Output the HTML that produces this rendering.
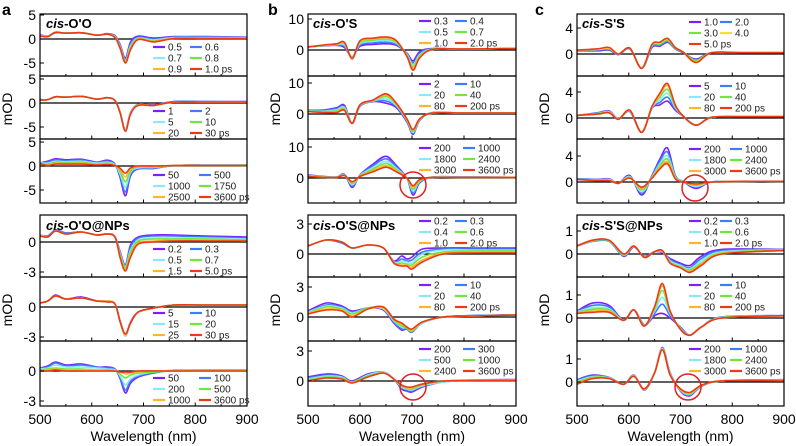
<!DOCTYPE html>
<html><head><meta charset="utf-8"><style>
html,body{margin:0;padding:0;background:#fff;}
svg{display:block;font-family:"Liberation Sans",Arial,sans-serif;}
</style></head><body>
<svg id="fig" width="796" height="446" viewBox="0 0 796 446" xmlns="http://www.w3.org/2000/svg"></svg>
<script>
// ---- data ----
const gridA = [500,515,530,550,580,610,630,645,655,665,675,690,720,760,820,900];
const gridBt = [500,530,555,570,585,600,625,650,670,690,702,715,740,800,900];
const gridBb = [500,535,565,585,615,645,665,680,690,700,720,760,820,900];
const gridCt = [500,540,562,580,602,625,645,660,675,690,705,730,760,820,900];
const gridCb = [500,530,562,590,610,630,650,665,680,700,718,740,780,900];

const a1 = [
[0.9,0.6,1.3,1.2,1.3,0.8,1.1,0.7,-1.2,-4.0,-0.6,0.6,0.2,0.5,0.5,0.4],
[0.8,0.6,1.3,1.2,1.3,0.8,1.1,0.6,-1.4,-4.3,-1.0,0.4,0.0,0.4,0.4,0.3],
[0.8,0.6,1.4,1.2,1.3,0.8,1.0,0.5,-1.6,-4.5,-1.4,0.2,-0.2,0.3,0.3,0.3],
[0.7,0.5,1.4,1.2,1.3,0.8,1.0,0.4,-1.8,-4.7,-1.7,0.1,-0.4,0.2,0.2,0.2],
[0.7,0.5,1.4,1.2,1.3,0.8,1.0,0.4,-1.9,-4.9,-2.0,0.0,-0.5,0.2,0.2,0.2],
[0.6,0.5,1.4,1.2,1.3,0.8,1.0,0.3,-2.0,-5.0,-2.2,-0.1,-0.6,0.1,0.1,0.1]];
const a2 = [
[0.7,0.7,1.3,1.2,1.4,0.8,1.1,0.5,-2.0,-5.6,-2.0,-0.3,-0.4,0.3,0.3,0.3],
[0.7,0.7,1.3,1.2,1.4,0.8,1.1,0.5,-2.0,-5.7,-2.1,-0.3,-0.5,0.3,0.3,0.2],
[0.6,0.7,1.3,1.2,1.4,0.8,1.1,0.5,-2.0,-5.7,-2.1,-0.4,-0.5,0.2,0.2,0.2],
[0.6,0.7,1.3,1.2,1.4,0.8,1.1,0.5,-2.1,-5.8,-2.2,-0.4,-0.5,0.2,0.2,0.2],
[0.6,0.7,1.3,1.2,1.4,0.8,1.1,0.5,-2.1,-5.8,-2.2,-0.4,-0.5,0.2,0.2,0.2],
[0.6,0.7,1.3,1.2,1.4,0.8,1.1,0.5,-2.1,-5.9,-2.3,-0.5,-0.5,0.2,0.2,0.2]];
const a3 = [
[0.6,1.0,1.5,1.3,1.4,0.8,1.2,0.4,-2.5,-6.2,-2.0,-0.6,-0.5,0.1,0.2,0.2],
[0.6,0.8,1.3,1.1,1.2,0.7,1.0,0.3,-2.2,-5.4,-1.7,-0.5,-0.4,0.1,0.2,0.2],
[0.6,0.6,1.0,0.9,1.0,0.6,0.8,0.3,-1.7,-4.4,-1.3,-0.4,-0.3,0.1,0.2,0.2],
[0.5,0.4,0.8,0.7,0.8,0.4,0.6,0.2,-1.2,-3.3,-1.0,-0.2,-0.2,0.1,0.1,0.1],
[0.5,0.2,0.6,0.5,0.6,0.3,0.4,0.1,-0.8,-2.3,-0.6,-0.1,-0.1,0.1,0.1,0.1],
[0.5,0.1,0.4,0.4,0.4,0.2,0.3,0.1,-0.5,-1.5,-0.4,0.0,0.0,0.1,0.1,0.1]];
const a4 = [
[0.7,0.6,1.2,0.9,1.0,0.7,0.8,0.5,-1.0,-2.3,-0.3,0.5,0.7,0.7,0.6,0.5],
[0.7,0.6,1.2,0.9,1.0,0.7,0.8,0.5,-1.1,-2.4,-0.5,0.4,0.6,0.6,0.5,0.4],
[0.7,0.5,1.1,0.8,1.0,0.7,0.8,0.5,-1.2,-2.5,-0.8,0.2,0.4,0.4,0.4,0.3],
[0.6,0.5,1.1,0.8,1.0,0.7,0.8,0.5,-1.3,-2.6,-1.0,0.1,0.3,0.3,0.3,0.2],
[0.6,0.5,1.1,0.8,1.0,0.7,0.8,0.5,-1.5,-2.8,-1.3,-0.1,0.1,0.2,0.2,0.1],
[0.6,0.5,1.1,0.8,1.0,0.7,0.8,0.5,-1.6,-2.9,-1.5,-0.2,0.0,0.1,0.1,0.1]];
const a5 = [
[0.4,0.6,1.2,0.8,1.0,0.6,0.6,0.3,-1.4,-2.8,-1.5,-0.5,-0.1,0.2,0.2,0.2],
[0.4,0.6,1.1,0.8,0.9,0.6,0.6,0.3,-1.5,-2.9,-1.6,-0.5,-0.1,0.2,0.2,0.2],
[0.4,0.6,1.1,0.8,0.9,0.6,0.6,0.3,-1.5,-2.9,-1.6,-0.5,-0.1,0.2,0.2,0.2],
[0.4,0.6,1.1,0.8,0.9,0.6,0.6,0.3,-1.5,-2.8,-1.6,-0.5,-0.1,0.2,0.2,0.2],
[0.4,0.6,1.1,0.8,0.9,0.6,0.6,0.3,-1.5,-2.8,-1.6,-0.5,-0.1,0.2,0.2,0.2],
[0.4,0.6,1.1,0.8,0.9,0.6,0.5,0.3,-1.5,-2.7,-1.6,-0.5,-0.1,0.2,0.2,0.2]];
const a6 = [
[0.3,0.5,0.9,0.6,0.7,0.4,0.4,0.2,-0.8,-2.2,-1.2,-0.6,-0.2,0.1,0.1,0.1],
[0.3,0.4,0.8,0.5,0.6,0.4,0.3,0.2,-0.7,-1.9,-1.0,-0.5,-0.2,0.1,0.1,0.1],
[0.2,0.3,0.6,0.4,0.4,0.3,0.2,0.1,-0.5,-1.4,-0.8,-0.4,-0.1,0.1,0.1,0.1],
[0.1,0.2,0.3,0.2,0.2,0.1,0.1,0.0,-0.3,-0.7,-0.4,-0.2,-0.1,0.0,0.1,0.1],
[0.0,0.1,0.2,0.1,0.1,0.1,0.0,0.0,-0.1,-0.3,-0.2,-0.1,0.0,0.0,0.0,0.0],
[0.0,0.0,0.1,0.0,0.0,0.0,0.0,0.0,-0.1,-0.1,-0.1,0.0,0.0,0.0,0.0,0.0]];
const b1 = [
[1.0,1.3,1.5,0.8,-2.2,1.2,1.8,2.0,1.5,-1.0,-3.5,-0.5,0.5,0.3,0.5],
[1.0,1.4,1.6,1.2,-2.3,1.6,2.3,2.5,1.8,-1.2,-4.2,-1.0,0.4,0.3,0.5],
[1.0,1.4,1.7,1.6,-2.4,2.0,2.8,3.0,2.2,-1.4,-4.8,-1.5,0.3,0.3,0.5],
[1.0,1.5,1.8,2.0,-2.5,2.4,3.2,3.5,2.5,-1.6,-5.4,-1.8,0.3,0.3,0.5],
[1.0,1.5,1.9,2.3,-2.7,2.7,3.5,3.9,2.8,-1.8,-6.0,-2.2,0.2,0.3,0.5],
[1.0,1.6,2.0,2.5,-2.8,3.0,3.8,4.2,3.0,-2.0,-6.5,-2.5,0.2,0.3,0.5]];
const b2 = [
[1.2,1.3,2.0,2.8,-3.0,2.5,4.0,3.5,2.0,-2.5,-6.5,-2.0,0.5,0.3,0.3],
[1.1,1.1,1.7,2.4,-3.0,2.6,4.1,4.2,2.4,-2.2,-6.2,-1.9,0.4,0.3,0.3],
[1.0,0.9,1.4,2.1,-3.0,2.7,4.2,4.9,2.7,-2.0,-5.9,-1.8,0.4,0.3,0.3],
[0.9,0.8,1.0,1.7,-3.0,2.8,4.3,5.6,3.0,-1.8,-5.6,-1.7,0.3,0.3,0.3],
[0.8,0.6,0.7,1.4,-3.0,2.9,4.4,6.1,3.3,-1.6,-5.2,-1.6,0.3,0.3,0.3],
[0.8,0.5,0.5,1.2,-3.0,3.0,4.5,6.5,3.5,-1.5,-5.0,-1.5,0.3,0.3,0.3]];
const b3 = [
[1.0,0.5,0.3,1.2,-3.0,1.0,4.5,7.0,4.0,0.0,-5.5,-1.5,0.3,0.3,0.2],
[0.9,0.4,0.3,1.1,-2.6,0.9,4.0,6.2,3.6,0.0,-4.9,-1.3,0.3,0.3,0.2],
[0.8,0.4,0.3,1.0,-2.2,0.8,3.4,5.4,3.1,0.0,-4.2,-1.1,0.3,0.3,0.2],
[0.7,0.3,0.2,0.9,-1.8,0.7,2.9,4.7,2.7,0.0,-3.6,-0.9,0.2,0.2,0.2],
[0.6,0.3,0.2,0.9,-1.5,0.6,2.4,4.0,2.3,0.0,-3.0,-0.7,0.2,0.2,0.2],
[0.5,0.2,0.2,0.8,-1.2,0.5,2.0,3.5,2.0,0.0,-2.5,-0.5,0.2,0.2,0.2]];
const b4 = [
[0.8,1.4,1.1,0.6,0.9,0.6,-0.7,-0.2,-0.5,-0.3,0.5,0.6,0.6,0.6],
[0.8,1.4,1.1,0.6,0.9,0.6,-0.8,-0.5,-0.7,-0.6,0.2,0.5,0.5,0.5],
[0.8,1.4,1.2,0.6,0.9,0.6,-0.8,-0.7,-0.8,-0.9,0.0,0.4,0.4,0.4],
[0.8,1.4,1.2,0.6,0.9,0.6,-0.9,-0.9,-1.0,-1.1,-0.3,0.2,0.3,0.3],
[0.8,1.4,1.2,0.6,0.9,0.6,-0.9,-1.1,-1.1,-1.3,-0.6,0.1,0.2,0.2],
[0.8,1.4,1.2,0.6,0.9,0.6,-0.9,-1.2,-1.2,-1.5,-0.8,0.0,0.1,0.1]];
const b5 = [
[0.6,1.4,1.1,0.6,0.9,0.7,-0.6,-1.3,-1.2,-1.5,-0.6,0.0,0.15,0.2],
[0.5,1.2,1.0,0.5,0.9,0.8,-0.5,-1.2,-1.2,-1.5,-0.6,0.0,0.15,0.2],
[0.5,1.1,0.9,0.4,0.9,0.8,-0.4,-1.0,-1.1,-1.4,-0.6,0.0,0.1,0.2],
[0.4,1.0,0.8,0.3,0.9,0.9,-0.3,-0.9,-1.1,-1.4,-0.5,0.0,0.1,0.2],
[0.4,0.8,0.7,0.1,0.8,0.9,-0.2,-0.7,-1.0,-1.3,-0.5,0.0,0.1,0.2],
[0.3,0.7,0.6,0.0,0.8,1.0,-0.2,-0.6,-1.0,-1.2,-0.5,0.0,0.1,0.2]];
const b6 = [
[0.4,0.7,0.5,0.0,0.7,0.9,0.2,-0.8,-1.0,-1.1,-0.6,-0.1,0.1,0.15],
[0.3,0.6,0.4,-0.1,0.6,0.9,0.2,-0.7,-0.9,-1.0,-0.5,-0.1,0.1,0.12],
[0.2,0.5,0.4,-0.1,0.6,0.9,0.2,-0.6,-0.8,-0.9,-0.5,-0.1,0.1,0.1],
[0.1,0.4,0.3,-0.1,0.5,0.8,0.2,-0.5,-0.7,-0.8,-0.4,0.0,0.1,0.1],
[0.0,0.3,0.2,-0.2,0.4,0.8,0.2,-0.4,-0.7,-0.7,-0.3,0.0,0.05,0.05],
[0.0,0.3,0.2,-0.2,0.4,0.8,0.2,-0.4,-0.6,-0.6,-0.3,0.0,0.05,0.05]];
const c1 = [
[0.5,0.5,0.6,-0.1,0.8,-2.2,1.0,1.2,1.8,0.8,0.2,-0.8,0.2,0.2,0.2],
[0.5,0.6,0.7,-0.1,0.8,-2.2,1.1,1.3,1.9,0.8,0.2,-0.9,0.2,0.2,0.2],
[0.6,0.7,0.8,0.0,0.9,-2.2,1.3,1.5,2.1,0.9,0.3,-1.0,0.2,0.2,0.2],
[0.6,0.7,0.9,0.0,0.9,-2.2,1.4,1.7,2.3,1.0,0.3,-1.2,0.2,0.2,0.2],
[0.6,0.8,1.0,0.0,0.9,-2.2,1.5,1.8,2.4,1.0,0.3,-1.3,0.2,0.2,0.2]];
const c2 = [
[0.4,0.8,1.1,-0.1,1.0,-2.2,1.5,2.0,2.6,1.2,0.3,-1.1,0.1,0.2,0.2],
[0.4,0.8,1.0,-0.1,1.0,-2.2,1.6,2.4,3.2,1.4,0.3,-1.1,0.1,0.2,0.2],
[0.4,0.7,1.0,-0.1,1.1,-2.2,1.6,2.8,3.8,1.6,0.3,-1.1,0.1,0.2,0.2],
[0.4,0.7,0.9,-0.2,1.1,-2.2,1.7,3.2,4.4,1.8,0.3,-1.1,0.1,0.2,0.2],
[0.4,0.6,0.9,-0.2,1.2,-2.2,1.7,3.5,5.0,1.9,0.3,-1.1,0.1,0.2,0.2],
[0.4,0.6,0.8,-0.2,1.2,-2.2,1.8,3.8,5.3,2.0,0.3,-1.1,0.1,0.2,0.2]];
const c3 = [
[0.5,0.4,0.5,-0.2,1.0,-2.0,1.0,3.5,5.2,1.0,0.1,-1.0,0.0,0.1,0.1],
[0.5,0.4,0.4,-0.2,0.9,-1.7,0.9,3.2,4.6,0.9,0.1,-0.8,0.0,0.1,0.1],
[0.4,0.3,0.4,-0.2,0.8,-1.5,0.8,2.8,4.0,0.8,0.1,-0.7,0.0,0.1,0.1],
[0.4,0.3,0.3,-0.2,0.7,-1.2,0.7,2.5,3.5,0.7,0.0,-0.5,0.0,0.1,0.1],
[0.4,0.2,0.3,-0.2,0.7,-1.0,0.7,2.2,3.1,0.6,0.0,-0.4,0.0,0.1,0.1],
[0.4,0.2,0.2,-0.2,0.6,-0.8,0.6,2.0,2.8,0.5,0.0,-0.3,0.0,0.1,0.1]];
const c4 = [
[0.35,0.55,0.55,-0.1,0.3,-0.1,0.1,0.05,-0.2,-0.4,-0.5,-0.1,0.2,0.2],
[0.35,0.55,0.55,-0.08,0.32,-0.12,0.1,0.08,-0.25,-0.45,-0.6,-0.2,0.15,0.2],
[0.35,0.57,0.57,-0.05,0.33,-0.13,0.1,0.1,-0.3,-0.5,-0.65,-0.3,0.1,0.18],
[0.35,0.58,0.58,-0.03,0.34,-0.14,0.1,0.12,-0.35,-0.55,-0.7,-0.4,0.05,0.17],
[0.35,0.6,0.6,0.0,0.35,-0.15,0.1,0.14,-0.38,-0.58,-0.75,-0.45,0.02,0.16],
[0.35,0.6,0.6,0.0,0.35,-0.15,0.1,0.15,-0.4,-0.6,-0.8,-0.5,0.0,0.15]];
const c5 = [
[0.3,0.65,0.55,-0.1,0.35,-0.3,0.1,0.2,0.0,-0.4,-0.75,-0.4,0.05,0.1],
[0.28,0.55,0.48,-0.1,0.35,-0.31,0.2,0.6,0.1,-0.42,-0.75,-0.4,0.04,0.1],
[0.26,0.45,0.4,-0.1,0.35,-0.32,0.3,0.9,0.2,-0.45,-0.75,-0.4,0.03,0.1],
[0.24,0.38,0.35,-0.1,0.35,-0.33,0.4,1.2,0.25,-0.47,-0.75,-0.4,0.02,0.1],
[0.22,0.3,0.3,-0.1,0.35,-0.34,0.45,1.4,0.28,-0.49,-0.75,-0.4,0.01,0.1],
[0.2,0.25,0.25,-0.1,0.35,-0.35,0.5,1.5,0.3,-0.5,-0.75,-0.4,0.0,0.1]];
const c6 = [
[0.1,0.3,0.2,-0.1,0.3,-0.35,0.4,1.5,0.4,-0.4,-0.6,-0.2,0.05,0.1],
[0.08,0.27,0.19,-0.1,0.29,-0.34,0.4,1.48,0.38,-0.38,-0.57,-0.19,0.05,0.09],
[0.04,0.23,0.18,-0.1,0.28,-0.33,0.4,1.46,0.36,-0.36,-0.54,-0.18,0.05,0.08],
[0.0,0.2,0.17,-0.1,0.27,-0.32,0.4,1.44,0.34,-0.34,-0.51,-0.17,0.05,0.07],
[-0.05,0.17,0.16,-0.1,0.26,-0.31,0.4,1.42,0.32,-0.32,-0.48,-0.16,0.05,0.06],
[-0.1,0.15,0.15,-0.1,0.25,-0.3,0.4,1.4,0.3,-0.3,-0.45,-0.15,0.05,0.05]];

const legA1 = ["0.5","0.6","0.7","0.8","0.9","1.0 ps"];
const legA2 = ["1","2","5","10","20","30 ps"];
const legA3 = ["50","500","1000","1750","2500","3600 ps"];
const legA4 = ["0.2","0.3","0.5","0.7","1.5","5.0 ps"];
const legA5 = ["5","10","15","20","25","30 ps"];
const legA6 = ["50","100","200","500","1000","3600 ps"];
const legB1 = ["0.3","0.4","0.5","0.7","1.0","2.0 ps"];
const legB2 = ["2","10","20","40","80","200 ps"];
const legB3 = ["200","1000","1800","2400","3000","3600 ps"];
const legB4 = ["0.2","0.3","0.4","0.6","1.0","2.0 ps"];
const legB5 = ["2","10","20","40","80","200 ps"];
const legB6 = ["200","300","500","1000","2400","3600 ps"];
const legC1 = ["1.0","2.0","3.0","4.0","5.0 ps"];
const legC2 = ["5","10","20","40","80","200 ps"];
const legC3 = ["200","1000","1800","2400","3000","3600 ps"];
const legC4 = ["0.2","0.3","0.4","0.6","1.0","2.0 ps"];
const legC5 = ["2","10","20","40","80","200 ps"];
const legC6 = ["200","1000","1800","2400","3000","3600 ps"];
const xTicks = [500,600,700,800,900];

// ---- rendering ----
const NS="http://www.w3.org/2000/svg";
const svg=document.getElementById('fig');
function mk(tag,attrs,parent){const e=document.createElementNS(NS,tag);for(const k in attrs)e.setAttribute(k,attrs[k]);(parent||svg).appendChild(e);return e;}
const COL6=["#7b1fff","#3d7bff","#86e9ff","#6ee83a","#ffb52e","#ec3a17"];
const COL5=["#7b1fff","#3d7bff","#6ee83a","#f2e033","#ec3a17"];
const cols={a:{x0:40,x1:247,lx:153,cx2:190,col2:{a3:199,a6:199}},
            b:{x0:308,x1:516,lx:419,cx2:455,col2:{b3:463,b6:463}},
            c:{x0:577,x1:784,lx:689,cx2:720,col2:{c3:730,c6:730}}};
const subs=[
 {id:'a1',c:'a',t:14,b:76,z:39,s:4.8,g:gridA,d:a1,leg:legA1,ly:47,ticks:[5,0,-5]},
 {id:'a2',c:'a',t:76,b:139,z:103,s:4.8,g:gridA,d:a2,leg:legA2,ly:111,ticks:[5,0,-5]},
 {id:'a3',c:'a',t:139,b:203,z:166,s:4.8,g:gridA,d:a3,leg:legA3,ly:175,ticks:[5,0,-5]},
 {id:'a4',c:'a',t:215,b:277,z:242,s:10,g:gridA,d:a4,leg:legA4,ly:249,ticks:[0,-3]},
 {id:'a5',c:'a',t:277,b:341,z:307,s:10,g:gridA,d:a5,leg:legA5,ly:313,ticks:[0,-3]},
 {id:'a6',c:'a',t:341,b:406,z:371,s:10,g:gridA,d:a6,leg:legA6,ly:378,ticks:[0,-3]},
 {id:'b1',c:'b',t:14,b:76,z:50,s:3.1,g:gridBt,d:b1,leg:legB1,ly:21,ticks:[10,0]},
 {id:'b2',c:'b',t:76,b:139,z:114,s:3.1,g:gridBt,d:b2,leg:legB2,ly:84,ticks:[10,0]},
 {id:'b3',c:'b',t:139,b:203,z:178,s:3.1,g:gridBt,d:b3,leg:legB3,ly:148,ticks:[10,0]},
 {id:'b4',c:'b',t:215,b:277,z:254,s:10,g:gridBb,d:b4,leg:legB4,ly:221,ticks:[3,0]},
 {id:'b5',c:'b',t:277,b:341,z:317,s:10,g:gridBb,d:b5,leg:legB5,ly:285,ticks:[3,0]},
 {id:'b6',c:'b',t:341,b:406,z:381,s:10,g:gridBb,d:b6,leg:legB6,ly:349,ticks:[3,0]},
 {id:'c1',c:'c',t:14,b:76,z:54,s:6.5,g:gridCt,d:c1,leg:legC1,ly:22,ticks:[4,0],five:true},
 {id:'c2',c:'c',t:76,b:139,z:118,s:6.5,g:gridCt,d:c2,leg:legC2,ly:86,ticks:[4,0]},
 {id:'c3',c:'c',t:139,b:203,z:182,s:6.5,g:gridCt,d:c3,leg:legC3,ly:149,ticks:[4,0]},
 {id:'c4',c:'c',t:215,b:277,z:254,s:23,g:gridCb,d:c4,leg:legC4,ly:221,ticks:[1,0]},
 {id:'c5',c:'c',t:277,b:341,z:318,s:23,g:gridCb,d:c5,leg:legC5,ly:285,ticks:[1,0]},
 {id:'c6',c:'c',t:341,b:406,z:382,s:23,g:gridCb,d:c6,leg:legC6,ly:349,ticks:[1,0]}
];
function path(pts){let d='M'+pts[0][0].toFixed(1)+','+pts[0][1].toFixed(1);
 for(let i=0;i<pts.length-1;i++){const p0=pts[Math.max(0,i-1)],p1=pts[i],p2=pts[i+1],p3=pts[Math.min(pts.length-1,i+2)];
  const c1x=p1[0]+(p2[0]-p0[0])/6,c1y=p1[1]+(p2[1]-p0[1])/6,c2x=p2[0]-(p3[0]-p1[0])/6,c2y=p2[1]-(p3[1]-p1[1])/6;
  d+=' C'+c1x.toFixed(1)+','+c1y.toFixed(1)+' '+c2x.toFixed(1)+','+c2y.toFixed(1)+' '+p2[0].toFixed(1)+','+p2[1].toFixed(1);}
 return d;}
const defs=mk('defs',{});
subs.forEach(sp=>{
 const C=cols[sp.c];
 const xs=w=>C.x0+(w-500)/400*(C.x1-C.x0);
 const ys=v=>sp.z-v*sp.s;
 const g=mk('g',{});
 
 
 const cp=mk('clipPath',{id:'cp'+sp.id},defs);
 mk('rect',{x:C.x0,y:sp.t,width:C.x1-C.x0,height:sp.b-sp.t},cp);
 const zl=mk('line',{x1:C.x0,x2:C.x1,y1:ys(0),y2:ys(0),stroke:'#000','stroke-width':1.3},g);
 
 
 const pal=sp.five?COL5:COL6;
 const lg=mk('g',{'clip-path':'url(#cp'+sp.id+')'},g);
 sp.d.forEach((ser,i)=>{
  const pts=ser.map((v,k)=>[xs(sp.g[k]),ys(v)]);
  const p=mk('path',{d:path(pts),fill:'none',stroke:pal[i],'stroke-width':1.6},lg);
  
  
 });
 mk('rect',{x:C.x0,y:sp.t,width:C.x1-C.x0,height:sp.b-sp.t,fill:'none',stroke:'#000','stroke-width':1.2},g);
 // x ticks
 for(let w=500;w<=900;w+=50){mk('line',{x1:xs(w),x2:xs(w),y1:sp.b,y2:sp.b-(w%100?2:3.5),stroke:'#000','stroke-width':1},g);}
 // y ticks
 sp.ticks.forEach(v=>{const y=ys(v); if(y<sp.t-4||y>sp.b+4)return;
  mk('line',{x1:C.x0,x2:C.x0+4,y1:y,y2:y,stroke:'#000','stroke-width':1},g);
  const t=mk('text',{x:C.x0-4,y:y+5,'text-anchor':'end','font-size':14,fill:'#000'},g);t.textContent=v;
  
  
 });
 // legend
 const col2=C.col2[sp.id]||C.cx2;
 sp.leg.forEach((lab,i)=>{
  const cx=i%2?col2:C.lx; const y=sp.ly+Math.floor(i/2)*11;
  const e=mk('g',{},g);
  
  
  mk('line',{x1:cx,x2:cx+12,y1:y,y2:y,stroke:pal[i],'stroke-width':2.2},e);
  const t=mk('text',{x:cx+15,y:y+3.5,'font-size':10,fill:'#222'},e);t.textContent=lab;
 });
});
// x tick labels & axis titles
['a','b','c'].forEach(k=>{const C=cols[k];const xs=w=>C.x0+(w-500)/400*(C.x1-C.x0);
 xTicks.forEach(w=>{const t=mk('text',{x:xs(w),y:424,'text-anchor':'middle','font-size':14});t.textContent=w;
  
  });
 const xt=mk('text',{x:(C.x0+C.x1)/2,y:441,'text-anchor':'middle','font-size':14});xt.textContent='Wavelength (nm)';
 
 
 [109,310].forEach(cy=>{const xx=C.x0-28;const yt=mk('text',{x:xx,y:cy,'text-anchor':'middle','font-size':14,transform:'rotate(-90 '+xx+' '+cy+')'});yt.textContent='mOD';
  
  });
});
// titles
[['a',46,28,"O'O"],['b',313,28,"O'S"],['c',582,28,"S'S"],['a',46,230,"O'O@NPs"],['b',313,230,"O'S@NPs"],['c',582,230,"S'S@NPs"]].forEach(r=>{
 const t=mk('text',{x:r[1],y:r[2],'font-size':13,'font-weight':'bold'});
 
 
 const i=mk('tspan',{'font-style':'italic'},t);i.textContent='cis';
 const n=mk('tspan',{},t);n.textContent='-'+r[3];
});
[['a',2,15],['b',268,15],['c',535,15]].forEach(r=>{const t=mk('text',{x:r[1],y:r[2],'font-size':16,'font-weight':'bold'});t.textContent=r[0];
 
 });
// red circles
[[413,185],[413,387],[695,188],[688,387]].forEach(p=>{const c=mk('circle',{cx:p[0],cy:p[1],r:13,fill:'none',stroke:'#e02020','stroke-width':1.5});
 
 });
</script>
</body></html>
